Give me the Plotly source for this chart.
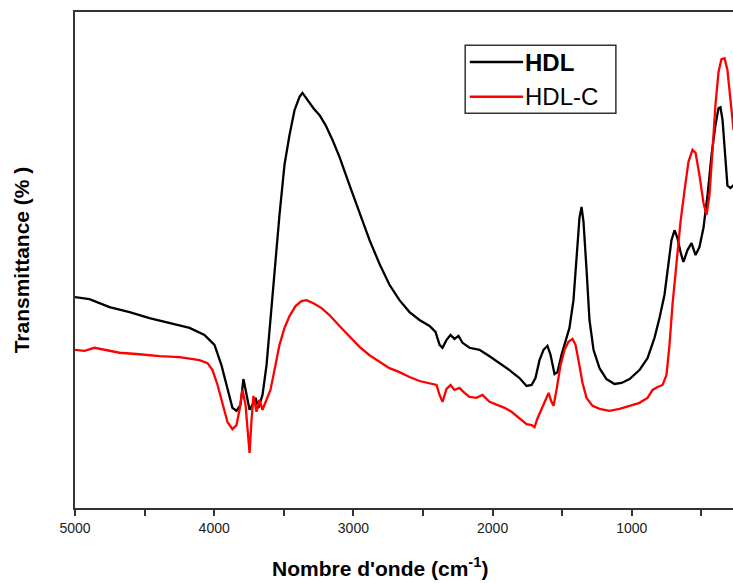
import plotly.graph_objects as go

# ---- data ----
hdl_wn = [5000, 4896, 4752, 4608, 4465, 4321, 4177, 4070, 3998, 3948, 3904, 3869, 3840, 3811, 3790, 3768,
          3746, 3725, 3703, 3682, 3653, 3624, 3596, 3567, 3531, 3495, 3459, 3423, 3387, 3366, 3330, 3287,
          3243, 3200, 3150, 3100, 3028, 2956, 2884, 2812, 2741, 2669, 2597, 2525, 2453, 2410, 2381, 2360,
          2331, 2302, 2274, 2245, 2216, 2166, 2094, 2022, 1950, 1879, 1807, 1756, 1720, 1692, 1663, 1634,
          1606, 1584, 1555, 1534, 1505, 1476, 1448, 1419, 1397, 1376, 1361, 1347, 1325, 1304, 1275, 1232,
          1182, 1124, 1074, 1016, 945, 887, 837, 801, 765, 736, 715, 693, 672, 650, 629, 600, 571, 542,
          514, 485, 456, 427, 399, 377, 363, 348, 327, 313, 291, 269]
hdl_t = [42.5, 42.1, 40.5, 39.5, 38.3, 37.3, 36.3, 34.9, 32.9, 28.8, 23.8, 20.2, 19.6, 20.8, 26.0, 22.8,
         19.8, 20.8, 22.2, 20.2, 22.8, 28.8, 37.9, 48.0, 59.1, 69.2, 75.2, 80.2, 82.9, 83.7, 82.3, 80.6,
         79.2, 77.2, 74.2, 70.8, 65.1, 59.5, 54.0, 49.2, 45.0, 41.9, 39.5, 37.9, 36.7, 35.5, 32.9, 32.3,
         33.9, 34.9, 34.1, 34.7, 33.3, 32.3, 31.9, 30.6, 29.2, 27.8, 26.2, 24.6, 24.8, 26.2, 29.8, 31.9,
         32.7, 30.9, 27.0, 27.4, 30.9, 33.9, 36.3, 41.9, 49.6, 58.5, 60.7, 57.7, 48.0, 37.9, 31.9, 28.2,
         26.0, 25.0, 25.2, 26.0, 27.8, 30.2, 34.3, 38.3, 43.0, 50.0, 54.0, 56.0, 54.4, 51.6, 49.6, 52.0,
         53.4, 51.0, 52.6, 56.5, 63.1, 71.2, 77.2, 80.6, 80.8, 78.2, 70.0, 65.0, 64.5, 65.1]

hdlc_wn = [5000, 4932, 4860, 4788, 4680, 4537, 4393, 4249, 4106, 4048, 4012, 3976, 3940, 3904, 3869, 3840,
           3818, 3797, 3775, 3761, 3746, 3732, 3718, 3696, 3675, 3653, 3624, 3596, 3567, 3531, 3495, 3459,
           3416, 3373, 3337, 3287, 3229, 3172, 3100, 3028, 2956, 2884, 2812, 2741, 2669, 2597, 2525, 2453,
           2403, 2381, 2360, 2331, 2302, 2274, 2238, 2202, 2166, 2116, 2073, 2022, 1972, 1914, 1864, 1807,
           1756, 1720, 1699, 1677, 1649, 1620, 1598, 1577, 1562, 1541, 1512, 1483, 1455, 1426, 1404, 1383,
           1354, 1325, 1282, 1232, 1160, 1088, 1016, 945, 887, 851, 815, 779, 751, 729, 708, 679, 650, 621,
           593, 564, 542, 514, 485, 463, 442, 420, 399, 377, 356, 334, 313, 291, 269]
hdlc_t = [31.9, 31.7, 32.3, 31.9, 31.3, 31.0, 30.6, 30.4, 29.8, 29.2, 27.8, 24.8, 20.8, 17.3, 15.9, 16.7,
          19.8, 23.8, 20.8, 15.7, 11.1, 17.7, 22.6, 19.4, 21.8, 19.8, 21.8, 23.8, 27.8, 32.9, 36.3, 38.7,
          40.7, 41.7, 41.9, 41.3, 40.3, 38.9, 36.7, 34.5, 32.5, 30.8, 29.4, 28.2, 27.4, 26.4, 25.6, 25.2,
          24.8, 22.8, 21.4, 24.0, 24.8, 23.8, 24.2, 23.2, 22.4, 22.2, 22.8, 21.4, 20.8, 20.2, 19.4, 18.1,
          16.9, 16.7, 16.3, 18.1, 19.8, 21.8, 23.2, 21.4, 20.6, 23.8, 28.8, 31.9, 33.5, 34.1, 32.9, 29.8,
          25.2, 22.2, 20.6, 20.0, 19.6, 20.0, 20.6, 21.2, 22.2, 23.8, 24.4, 24.8, 26.8, 32.9, 40.9, 49.6,
          57.7, 64.1, 69.8, 72.2, 71.6, 67.1, 61.5, 59.1, 63.1, 72.2, 81.3, 87.9, 90.5, 90.7, 88.3, 82.3, 76.2]

series_names = ["HDL", "HDL-C"]
x_title = "Nombre d'onde (cm<sup>-1</sup>)"
y_title = "Transmittance (% )"

fig = go.Figure()
fig.add_trace(go.Scatter(x=hdl_wn, y=hdl_t, mode="lines", name=series_names[0],
                         line=dict(color="black", width=2.3), showlegend=False))
fig.add_trace(go.Scatter(x=hdlc_wn, y=hdlc_t, mode="lines", name=series_names[1],
                         line=dict(color="#ff0000", width=2.3), showlegend=False))

# custom legend box
fig.add_shape(type="rect", xref="paper", yref="paper", x0=0.593, x1=0.822, y0=0.796, y1=0.933,
              line=dict(color="#333333", width=1.5), fillcolor="white")
fig.add_shape(type="line", xref="paper", yref="paper", x0=0.600, x1=0.681, y0=0.899, y1=0.899,
              line=dict(color="black", width=2.5))
fig.add_shape(type="line", xref="paper", yref="paper", x0=0.600, x1=0.681, y0=0.829, y1=0.829,
              line=dict(color="#ff0000", width=2.5))
fig.add_annotation(x=0.681, y=0.899, xref="paper", yref="paper", text="<b>" + series_names[0] + "</b>",
                   showarrow=False, xanchor="left", yanchor="middle",
                   font=dict(family="Liberation Sans, Arial", size=24, color="black"))
fig.add_annotation(x=0.681, y=0.829, xref="paper", yref="paper", text=series_names[1],
                   showarrow=False, xanchor="left", yanchor="middle",
                   font=dict(family="Liberation Sans, Arial", size=24, color="black"))

# x-axis title (slightly left of centre, as in the reference)
fig.add_annotation(x=0.464, y=-0.149, xref="paper", yref="paper", text="<b>" + x_title + "</b>",
                   showarrow=False, xanchor="center", yanchor="bottom",
                   font=dict(family="Liberation Sans Narrow, Arial Narrow, Liberation Sans", size=21, color="black"))

fig.update_layout(
    width=733, height=583,
    margin=dict(l=75, r=0, t=12, b=75),
    plot_bgcolor="white", paper_bgcolor="white",
    showlegend=False,
)
fig.update_xaxes(
    range=[5000, 273], tick0=0, dtick=1000,
    ticks="outside", ticklen=6, tickwidth=1.5, tickcolor="#333333",
    minor=dict(ticks="outside", ticklen=6, tickwidth=1.5, tickcolor="#333333", dtick=500, showgrid=False),
    showline=True, linecolor="#333333", linewidth=2, mirror=True,
    showgrid=False, zeroline=False,
    tickfont=dict(family="Liberation Sans, Arial", size=14, color="#222222"),
)
fig.update_yaxes(
    range=[0, 100], showticklabels=False, ticks="",
    showline=True, linecolor="#333333", linewidth=2, mirror=False,
    showgrid=False, zeroline=False,
    title=dict(text="<b>" + y_title + "</b>", standoff=38,
               font=dict(family="Liberation Sans, Arial", size=21, color="black")),
)

fig.write_html("out.html")
